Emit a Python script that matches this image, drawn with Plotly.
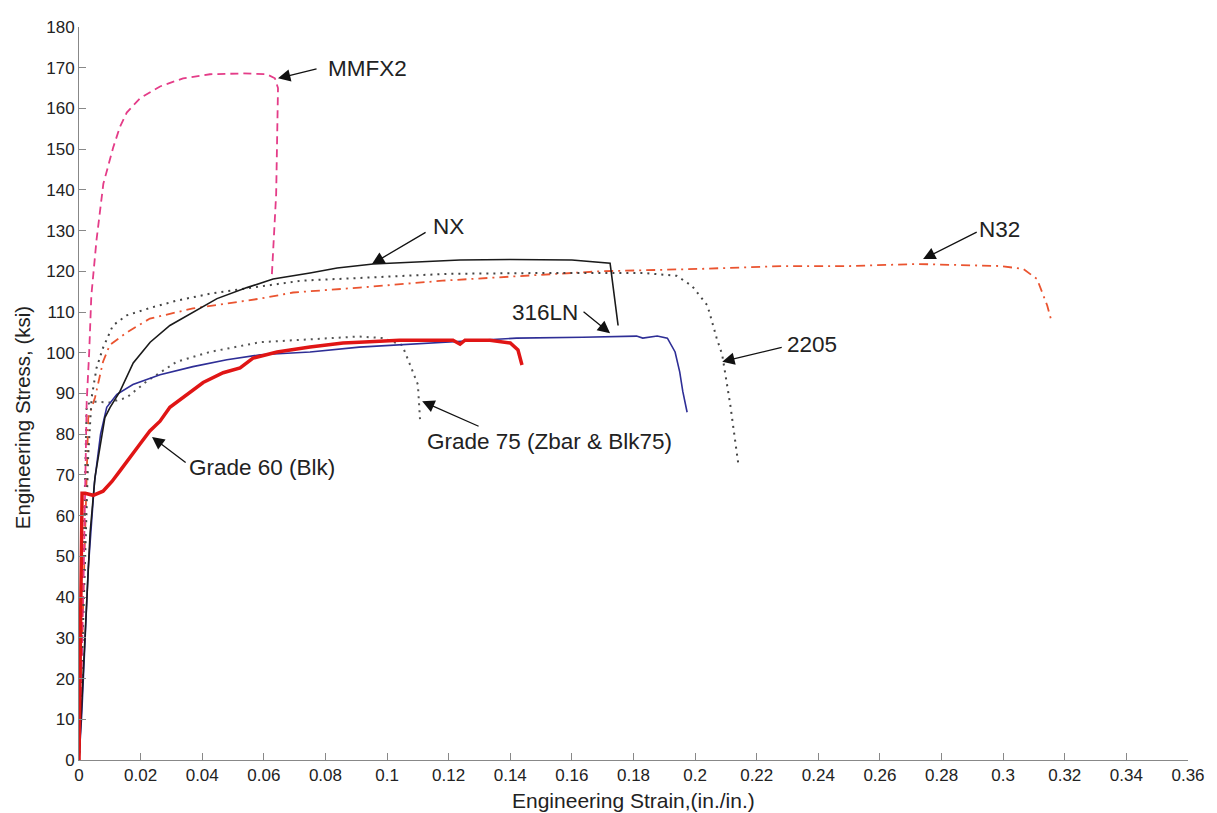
import plotly.graph_objects as go

# ---------------- data ----------------
mmfx2_strain = [0, 0.0008, 0.0015, 0.002, 0.0025, 0.0033, 0.004, 0.0057, 0.0079, 0.0111, 0.0133, 0.0155,
                0.0198, 0.0263, 0.0338, 0.0425, 0.0533, 0.061, 0.0636, 0.0646, 0.064, 0.0626]
mmfx2_stress = [0, 20, 45, 68, 88, 100, 114, 127.8, 141.5, 150.4, 155.5, 159.0,
                162.5, 165.4, 167.4, 168.4, 168.6, 168.4, 167.4, 165, 139, 119]

nx_strain = [0, 0.002, 0.0036, 0.0052, 0.0084, 0.0101, 0.0133, 0.0176, 0.0231, 0.0295, 0.037, 0.0448,
             0.0545, 0.063, 0.075, 0.0838, 0.0955, 0.113, 0.1237, 0.14, 0.16, 0.1724, 0.175]
nx_stress = [0, 30, 55.8, 69.5, 84.1, 86.6, 90.5, 97.5, 102.6, 106.7, 109.9, 113.3,
             116, 118.1, 119.6, 120.8, 121.8, 122.5, 122.8, 122.9, 122.8, 122, 106.7]

s2205_strain = [0, 0.0015, 0.003, 0.0041, 0.0057, 0.0078, 0.011, 0.0155, 0.023, 0.0317, 0.0425, 0.072,
                0.12, 0.153, 0.183, 0.194, 0.199, 0.204, 0.207, 0.2088, 0.2114, 0.214]
s2205_stress = [0, 40, 75, 89, 96.3, 101.2, 106.7, 109.2, 111, 112.8, 114.5, 117.7,
                119.4, 119.6, 119.6, 118.9, 116.4, 111.6, 103.6, 99.5, 87.3, 72.8]

g75_strain = [0, 0.0012, 0.0025, 0.0046, 0.01, 0.0155, 0.022, 0.0317, 0.0425, 0.0588, 0.0857, 0.091,
              0.0987, 0.1049, 0.1075, 0.11, 0.1107]
g75_stress = [0, 40, 87.3, 88, 87.8, 89, 93, 97.8, 100.2, 102.6, 103.8, 104,
              103.6, 101.9, 97, 92.2, 83.7]

n32_strain = [0, 0.0015, 0.003, 0.0052, 0.0078, 0.01, 0.0155, 0.023, 0.037, 0.0588, 0.0695, 0.091,
              0.118, 0.169, 0.2016, 0.2286, 0.25, 0.272, 0.299, 0.3065, 0.311, 0.3143, 0.3156]
n32_stress = [0, 42, 84, 89, 97.8, 101.9, 105, 108.4, 110.9, 113.3, 114.8, 116,
              117.7, 120, 120.6, 121.3, 121.3, 121.8, 121.3, 120.6, 118.1, 111.6, 108]

ln316_strain = [0, 0.0009, 0.002, 0.003, 0.005, 0.007, 0.009, 0.0123, 0.0175, 0.0263, 0.037, 0.048,
                0.0588, 0.075, 0.091, 0.1205, 0.142, 0.1636, 0.181, 0.183, 0.1877, 0.191, 0.1935,
                0.195, 0.196, 0.1974]
ln316_stress = [0, 11.4, 30, 47, 68, 80, 86.6, 89.8, 92.2, 94.6, 96.6, 98.3,
                99.5, 100.2, 101.4, 102.6, 103.6, 103.8, 104.1, 103.6, 104.1, 103.6, 100.2,
                95.3, 90.5, 85.4]

g60_strain = [0, 0.0004, 0.0008, 0.001, 0.002, 0.0046, 0.0078, 0.0107, 0.0133, 0.0166, 0.0198, 0.023,
              0.0263, 0.0295, 0.035, 0.0403, 0.0468, 0.0523, 0.0565, 0.0643, 0.075, 0.0857, 0.091,
              0.104, 0.1214, 0.1237, 0.1253, 0.1334, 0.14, 0.1425, 0.1438]
g60_stress = [0, 30, 60, 65.5, 65.5, 65, 66, 68.4, 71, 74.5, 77.6, 80.8,
              83.2, 86.6, 89.8, 92.7, 95.1, 96.3, 98.7, 100.2, 101.4, 102.4, 102.6,
              103.1, 103.1, 102.1, 103.1, 103.1, 102.4, 100.7, 97]

x_tick_vals = [0, 0.02, 0.04, 0.06, 0.08, 0.1, 0.12, 0.14, 0.16, 0.18, 0.2, 0.22, 0.24, 0.26, 0.28,
               0.3, 0.32, 0.34, 0.36]
x_tick_text = ["0", "0.02", "0.04", "0.06", "0.08", "0.1", "0.12", "0.14", "0.16", "0.18", "0.2",
               "0.22", "0.24", "0.26", "0.28", "0.3", "0.32", "0.34", "0.36"]
y_tick_vals = list(range(0, 190, 10))

# labels: (text, arrow head x,y, arrow tail x,y, text centre x,y)
labels = [
    ("MMFX2", 0.0646, 167.4, 0.0776, 169.8, 0.0935, 169.8),
    ("NX", 0.0951, 121.8, 0.113, 129.8, 0.1198, 131.0),
    ("N32", 0.274, 123.0, 0.2919, 129.8, 0.2987, 130.3),
    ("316LN", 0.1724, 104.8, 0.1633, 110.4, 0.1513, 109.9),
    ("2205", 0.2088, 97.8, 0.2286, 101.4, 0.238, 102.1),
    ("Grade 75 (Zbar & Blk75)", 0.1114, 88.1, 0.1302, 81.8, 0.1526, 78.1),
    ("Grade 60 (Blk)", 0.0237, 79.3, 0.0351, 72.8, 0.0594, 71.8),
]

FONT = "Liberation Sans, Arial, Helvetica, sans-serif"

fig = go.Figure()

fig.add_trace(go.Scatter(x=n32_strain, y=n32_stress, mode="lines",
                         line=dict(color="#EA5430", width=1.8, dash="9px,5px,2px,5px")))
fig.add_trace(go.Scatter(x=s2205_strain, y=s2205_stress, mode="lines",
                         line=dict(color="#444444", width=2, dash="2px,5px")))
fig.add_trace(go.Scatter(x=g75_strain, y=g75_stress, mode="lines",
                         line=dict(color="#555555", width=2, dash="2px,5px")))
fig.add_trace(go.Scatter(x=mmfx2_strain, y=mmfx2_stress, mode="lines",
                         line=dict(color="#E43C88", width=1.8, dash="8px,5px")))
fig.add_trace(go.Scatter(x=ln316_strain, y=ln316_stress, mode="lines",
                         line=dict(color="#2E2E96", width=1.6)))
fig.add_trace(go.Scatter(x=nx_strain, y=nx_stress, mode="lines",
                         line=dict(color="#1A1A1A", width=1.6)))
fig.add_trace(go.Scatter(x=g60_strain, y=g60_stress, mode="lines",
                         line=dict(color="#E01515", width=3.5)))

annotations = []
for text, hx, hy, tx, ty, cx, cy in labels:
    annotations.append(dict(x=hx, y=hy, ax=tx, ay=ty, xref="x", yref="y", axref="x", ayref="y",
                            text="", showarrow=True, arrowhead=2, arrowsize=1.9, arrowwidth=1.3,
                            arrowcolor="#111111"))
    annotations.append(dict(x=cx, y=cy, xref="x", yref="y", text=text, showarrow=False,
                            xanchor="center", yanchor="middle",
                            font=dict(family=FONT, size=22.5, color="#222222")))

annotations.append(dict(x=0.5, y=-0.0553, xref="paper", yref="paper", text="Engineering Strain,(in./in.)",
                        showarrow=False, xanchor="center", yanchor="middle",
                        font=dict(family=FONT, size=21, color="#222222")))
annotations.append(dict(x=-0.0514, y=0.4677, xref="paper", yref="paper", text="Engineering Stress, (ksi)",
                        showarrow=False, xanchor="center", yanchor="middle", textangle=-90,
                        font=dict(family=FONT, size=20.5, color="#222222")))

# page body has an 8px margin, so the figure is sized/offset to land the axes where the reference has them
fig.update_layout(
    width=1209, height=805,
    margin=dict(l=71, r=29, t=10, b=53),
    paper_bgcolor="white", plot_bgcolor="white",
    showlegend=False,
    annotations=annotations,
    font=dict(family=FONT, color="#222222"),
)
fig.update_xaxes(range=[0, 0.36], tickvals=x_tick_vals, ticktext=x_tick_text,
                 showgrid=False, zeroline=False, showline=True, linecolor="#888888", linewidth=1,
                 ticks="inside", ticklen=7, tickcolor="#888888", tickfont=dict(size=17, color="#222222"))
fig.update_yaxes(range=[0, 180], tickvals=y_tick_vals,
                 showgrid=False, zeroline=False, showline=True, linecolor="#888888", linewidth=1,
                 ticks="inside", ticklen=7, tickcolor="#888888", tickfont=dict(size=17, color="#222222"))

fig.write_html("out.html")
